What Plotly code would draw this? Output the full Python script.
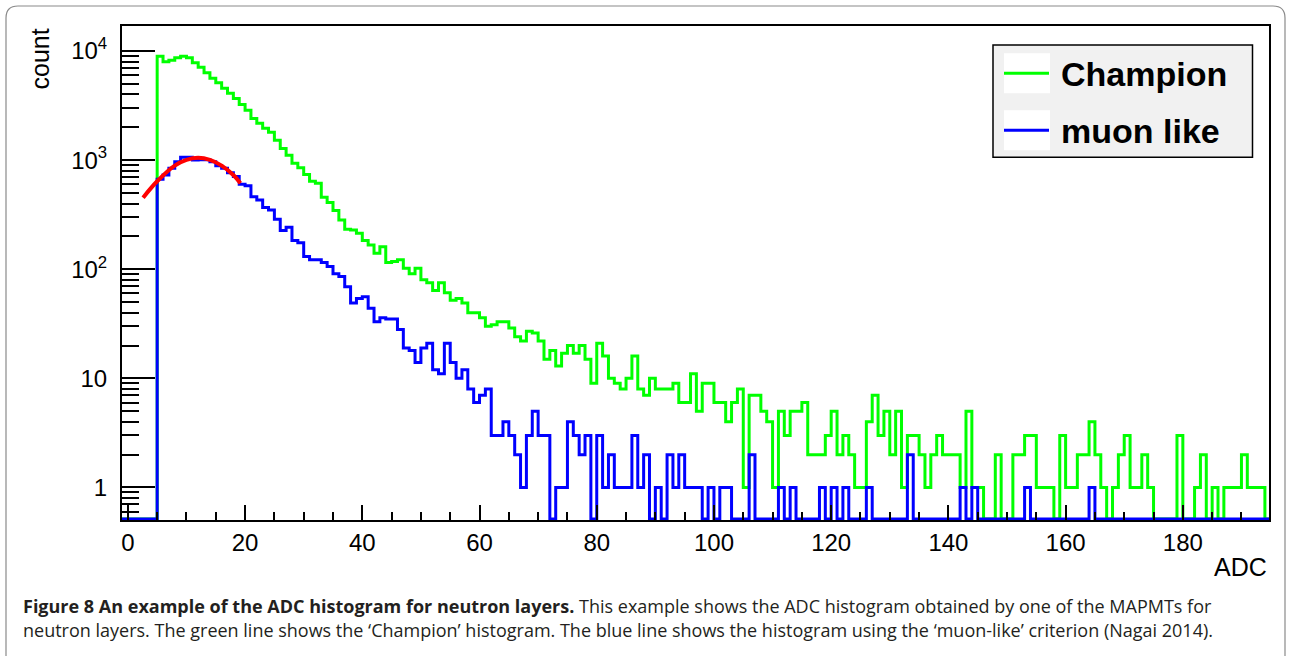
import plotly.graph_objects as go

# ---------------- data ----------------
first_bin = 5          # first non-empty ADC bin (bins are 1 ADC wide)
last_edge = 194        # upper edge of the last drawn bin

champion_counts = [
    8950, 7960, 8230, 8650, 8950, 8650, 7790, 7080, 6320, 5630,
    5110, 4560, 4090, 3670, 3240, 2870, 2400, 2180, 1960, 1800,
    1520, 1280, 1110, 935, 850, 740, 640, 614, 457, 408,
    345, 283, 233, 229, 214, 183, 167, 140, 161, 115,
    118, 122, 102, 91, 102, 80, 75, 64, 75, 61,
    52, 54, 49, 40, 40, 36, 30, 31, 33, 33,
    29, 24, 22, 27, 26, 22, 15, 18, 13, 17,
    20, 17, 20, 15, 9, 21, 16, 10, 9, 8,
    10, 16, 8, 7, 10, 8, 8, 8, 9, 6,
    6, 11, 5, 9, 9, 6, 6, 4, 6, 8,
    1, 7, 7, 5, 4, 1, 5, 3, 5, 5,
    6, 2, 2, 2, 3, 5, 2, 3, 2, 1,
    1, 4, 7, 3, 5, 2, 5, 1, 3, 3,
    2, 1, 2, 3, 2, 2, 2, 1, 5, 1,
    1, 0, 0, 2, 0, 0, 2, 2, 3, 3,
    1, 1, 1, 0, 3, 1, 1, 2, 2, 4,
    2, 1, 0, 1, 2, 3, 1, 1, 2, 1,
    0, 0, 0, 0, 3, 0, 0, 1, 2, 0,
    1, 0, 1, 1, 1, 2, 1, 1, 1,
]

muon_counts = [
    667, 731, 841, 967, 1060, 1060, 1000, 1010, 1010, 967,
    890, 841, 767, 707, 600, 583, 462, 431, 367, 349,
    287, 226, 243, 183, 175, 131, 122, 122, 115, 106,
    91, 86, 69, 49, 54, 56, 44, 33, 36, 35,
    35, 28, 19, 18, 14, 19, 21, 12, 11, 21,
    14, 10, 12, 8, 6, 7, 8, 3, 3, 4,
    3, 2, 1, 3, 5, 3, 3, 0, 1, 1,
    4, 3, 2, 3, 0, 3, 1, 2, 1, 1,
    1, 3, 1, 2, 0, 1, 0, 2, 1, 2,
    1, 1, 1, 0, 1, 0, 1, 1, 0, 0,
    0, 2, 0, 0, 0, 0, 1, 0, 1, 0,
    0, 0, 0, 1, 0, 1, 0, 1, 0, 0,
    0, 1, 0, 0, 0, 0, 0, 0, 2, 0,
    0, 0, 0, 0, 0, 0, 0, 1, 0, 1,
    0, 0, 0, 0, 0, 0, 0, 0, 1, 0,
    0, 0, 0, 0, 0, 0, 0, 0, 0, 1,
    0, 0, 0, 0, 0, 0, 0, 0, 0, 0,
    0, 0, 0, 0, 0, 0, 0, 0, 0, 0,
    0, 0, 0, 0, 0, 0, 0, 0, 0,
]

# gaussian fit curve on the muon-like histogram
fit_x = [2.6, 5, 8, 10, 12, 14, 16, 18, 19.2]
fit_y = [453, 640, 890, 1005, 1050, 1005, 890, 730, 615]

x_tick_vals = [0, 20, 40, 60, 80, 100, 120, 140, 160, 180]
y_tick_vals = [1, 10, 100, 1000, 10000]
y_tick_text = ["1", "10", "10<sup>2</sup>", "10<sup>3</sup>", "10<sup>4</sup>"]

series_names = ["Champion", "muon like"]
series_colors = ["#00ff00", "#0000ff"]

caption_bold = "Figure 8 An example of the ADC histogram for neutron layers."
caption_rest1 = (" This example shows the ADC histogram obtained by one of the MAPMTs for")
caption_line2 = ("neutron layers. The green line shows the \u2018Champion\u2019 histogram. "
                 "The blue line shows the histogram using the \u2018muon-like\u2019 criterion (Nagai 2014).")

# ---------------- geometry ----------------
W, H = 1290, 656
L, R, T, B = 122, 1269, 26, 520          # plot-area pixel box
Y_FLOOR = 0.515                          # empty bins drawn on the frame bottom (ROOT style)


def px(xp):
    return (xp - L) / (R - L)


def py(yp):
    return (B - yp) / (B - T)


def step_xy(counts):
    # bins from -1 .. last_edge, zero outside the listed range
    edges = list(range(-1, last_edge + 2))
    vals = [0] * (first_bin + 1) + list(counts) + [0]
    vals = [v if v > 0 else Y_FLOOR for v in vals]
    vals.append(vals[-1])
    return edges, vals


fig = go.Figure()
for counts, name, col in zip([champion_counts, muon_counts], series_names, series_colors):
    xs, ys = step_xy(counts)
    fig.add_trace(go.Scatter(x=xs, y=ys, mode="lines", name=name,
                             line=dict(color=col, width=3, shape="hv"),
                             showlegend=False, hoverinfo="skip"))

fig.add_trace(go.Scatter(x=fit_x, y=fit_y, mode="lines", name="fit",
                         line=dict(color="#ff0000", width=4, shape="spline"),
                         showlegend=False, hoverinfo="skip"))

font_main = "Liberation Sans, Arial, sans-serif"

minor_y = []
for dec in [0.1, 1, 10, 100, 1000, 10000]:
    for m in range(2, 10):
        v = m * dec
        if 0.515 < v < 16900:
            minor_y.append(v)

fig.update_xaxes(range=[-1.0, 194.7], tickmode="array", tickvals=x_tick_vals,
                 ticks="inside", ticklen=15, tickwidth=2, tickcolor="black",
                 showline=True, linecolor="black", linewidth=2, mirror=True,
                 showgrid=False, zeroline=False,
                 tickfont=dict(family=font_main, size=24, color="black"),
                 minor=dict(dtick=5, tick0=0, ticks="inside", ticklen=8, tickwidth=2,
                            tickcolor="black", showgrid=False))
fig.update_yaxes(type="log", range=[-0.298, 4.229], tickmode="array",
                 tickvals=y_tick_vals, ticktext=y_tick_text,
                 ticks="inside", ticklen=33, tickwidth=2, tickcolor="black",
                 showline=True, linecolor="black", linewidth=2, mirror=True,
                 showgrid=False, zeroline=False, ticklabelstandoff=8,
                 tickfont=dict(family=font_main, size=24, color="black"),
                 minor=dict(tickmode="array", tickvals=minor_y, ticks="inside",
                            ticklen=17, tickwidth=2, tickcolor="black", showgrid=False))

shapes = []
annotations = []

# outer rounded panel border
r = 12
x0b, x1b, y0b, y1b = 6, 1285, 6, 700
path = (f"M {px(x0b)},{py(y1b)} L {px(x0b)},{py(y0b + r)} "
        f"Q {px(x0b)},{py(y0b)} {px(x0b + r)},{py(y0b)} "
        f"L {px(x1b - r)},{py(y0b)} Q {px(x1b)},{py(y0b)} {px(x1b)},{py(y0b + r)} "
        f"L {px(x1b)},{py(y1b)}")
shapes.append(dict(type="path", xref="paper", yref="paper", path=path,
                   line=dict(color="#8a8a8a", width=1.2), layer="below"))

# legend box
shapes.append(dict(type="rect", xref="paper", yref="paper",
                   x0=px(993), x1=px(1252.5), y0=py(157.3), y1=py(45),
                   fillcolor="#f1f1f1", line=dict(color="black", width=1.5)))
legend_rows = [73.3, 130.3]
for yc, name, col in zip(legend_rows, series_names, series_colors):
    shapes.append(dict(type="rect", xref="paper", yref="paper",
                       x0=px(1004), x1=px(1050), y0=py(yc + 20), y1=py(yc - 20),
                       fillcolor="white", line=dict(width=0)))
    shapes.append(dict(type="line", xref="paper", yref="paper",
                       x0=px(1004), x1=px(1049), y0=py(yc), y1=py(yc),
                       line=dict(color=col, width=3)))
    annotations.append(dict(xref="paper", yref="paper", x=px(1059), y=py(yc + 1),
                            xanchor="left", yanchor="middle", showarrow=False,
                            text=f"<b>{name}</b>",
                            font=dict(family=font_main, size=34, color="black")))

# axis titles (ROOT style placement)
annotations.append(dict(xref="paper", yref="paper", x=px(40), y=py(27),
                        xanchor="center", yanchor="top", textangle=-90, showarrow=False,
                        text="count", font=dict(family=font_main, size=25, color="black")))
annotations.append(dict(xref="paper", yref="paper", x=px(1269), y=py(567),
                        xanchor="right", yanchor="middle", showarrow=False,
                        text="ADC", font=dict(family=font_main, size=25, color="black")))

# caption
cap_font = dict(family="Open Sans, Noto Sans, sans-serif", size=18, color="#231f20")
annotations.append(dict(xref="paper", yref="paper", x=px(21), y=py(606),
                        xanchor="left", yanchor="middle", showarrow=False, align="left",
                        text=f"<b>{caption_bold}</b>{caption_rest1}", font=cap_font))
annotations.append(dict(xref="paper", yref="paper", x=px(21), y=py(630),
                        xanchor="left", yanchor="middle", showarrow=False, align="left",
                        text=caption_line2, font=cap_font))

fig.update_layout(width=W, height=H, margin=dict(l=L, r=W - R, t=T, b=H - B),
                  paper_bgcolor="white", plot_bgcolor="white",
                  shapes=shapes, annotations=annotations, showlegend=False)

fig.write_html("out.html")
